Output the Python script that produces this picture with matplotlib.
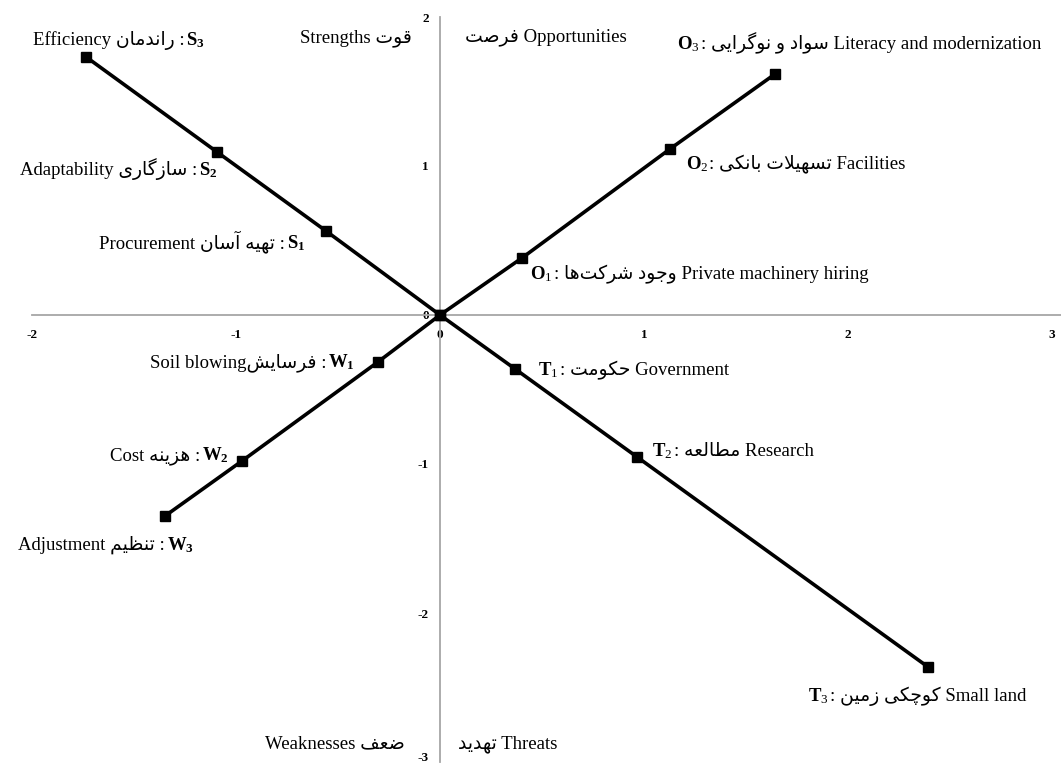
import matplotlib.pyplot as plt
from matplotlib.transforms import IdentityTransform, ScaledTranslation

plt.rcParams['font.family'] = ['Liberation Serif', 'DejaVu Sans']
plt.rcParams['mathtext.fontset'] = 'custom'
plt.rcParams['mathtext.rm'] = 'Liberation Serif'
plt.rcParams['mathtext.it'] = 'Liberation Serif:italic'
plt.rcParams['mathtext.bf'] = 'Liberation Serif:bold'
plt.rcParams['axes.unicode_minus'] = False

# factor coordinates, index 0 = factor 1
strength_x = [-0.559, -1.093, -1.735]
strength_y = [0.564, 1.094, 1.732]
strength_fa = ['تهیه آسان', 'سازگاری', 'راندمان']
strength_en = ['Procurement', 'Adaptability', 'Efficiency']

weakness_x = [-0.304, -0.971, -1.348]
weakness_y = [-0.315, -0.980, -1.349]
weakness_fa = ['فرسایش', 'هزینه', 'تنظیم']
weakness_en = ['Soil blowing', 'Cost', 'Adjustment']

opportunity_x = [0.402, 1.127, 1.642]
opportunity_y = [0.383, 1.114, 1.617]
opportunity_fa = ['وجود شرکت\u200cها', 'تسهیلات بانکی', 'سواد و نوگرایی']
opportunity_en = ['Private machinery hiring', 'Facilities', 'Literacy and modernization']

threat_x = [0.368, 0.966, 2.392]
threat_y = [-0.362, -0.953, -2.362]
threat_fa = ['حکومت', 'مطالعه', 'کوچکی زمین']
threat_en = ['Government', 'Research', 'Small land']

x_ticks = [-2, -1, 0, 1, 2, 3]
y_ticks = [-3, -2, -1, 0, 1, 2]

# matplotlib has no arabic shaping, so pick presentation forms by hand
# (isolated, final, initial, medial)
FORMS = {
    'ا': ('\uFE8D', '\uFE8E', None, None),
    'آ': ('\uFE81', '\uFE82', None, None),
    'ب': ('\uFE8F', '\uFE90', '\uFE91', '\uFE92'),
    'ت': ('\uFE95', '\uFE96', '\uFE97', '\uFE98'),
    'ج': ('\uFE9D', '\uFE9E', '\uFE9F', '\uFEA0'),
    'چ': ('\uFB7A', '\uFB7B', '\uFB7C', '\uFB7D'),
    'ح': ('\uFEA1', '\uFEA2', '\uFEA3', '\uFEA4'),
    'د': ('\uFEA9', '\uFEAA', None, None),
    'ر': ('\uFEAD', '\uFEAE', None, None),
    'ز': ('\uFEAF', '\uFEB0', None, None),
    'س': ('\uFEB1', '\uFEB2', '\uFEB3', '\uFEB4'),
    'ش': ('\uFEB5', '\uFEB6', '\uFEB7', '\uFEB8'),
    'ص': ('\uFEB9', '\uFEBA', '\uFEBB', '\uFEBC'),
    'ض': ('\uFEBD', '\uFEBE', '\uFEBF', '\uFEC0'),
    'ط': ('\uFEC1', '\uFEC2', '\uFEC3', '\uFEC4'),
    'ظ': ('\uFEC5', '\uFEC6', '\uFEC7', '\uFEC8'),
    'ع': ('\uFEC9', '\uFECA', '\uFECB', '\uFECC'),
    'ف': ('\uFED1', '\uFED2', '\uFED3', '\uFED4'),
    'ق': ('\uFED5', '\uFED6', '\uFED7', '\uFED8'),
    'ک': ('\uFB8E', '\uFB8F', '\uFB90', '\uFB91'),
    'گ': ('\uFB92', '\uFB93', '\uFB94', '\uFB95'),
    'ل': ('\uFEDD', '\uFEDE', '\uFEDF', '\uFEE0'),
    'م': ('\uFEE1', '\uFEE2', '\uFEE3', '\uFEE4'),
    'ن': ('\uFEE5', '\uFEE6', '\uFEE7', '\uFEE8'),
    'ه': ('\uFEE9', '\uFEEA', '\uFEEB', '\uFEEC'),
    'و': ('\uFEED', '\uFEEE', None, None),
    'ی': ('\uFBFC', '\uFBFD', '\uFBFE', '\uFBFF'),
}


def joins_forward(c):
    return c in FORMS and FORMS[c][2] is not None


def fa(s):
    out = []
    i = 0
    while i < len(s):
        c = s[i]
        prev = s[i - 1] if i > 0 else ''
        nxt = s[i + 1] if i + 1 < len(s) else ''
        if c not in FORMS:
            if c != '\u200c':
                out.append(c)
            i += 1
            continue
        jp = joins_forward(prev)
        if c == 'ل' and nxt in ('ا', 'آ'):
            lig = {'ا': ('\uFEFB', '\uFEFC'), 'آ': ('\uFEF5', '\uFEF6')}[nxt]
            out.append(lig[1] if jp else lig[0])
            i += 2
            continue
        jn = joins_forward(c) and nxt in FORMS
        iso, fin, ini, med = FORMS[c]
        if jp and jn:
            out.append(med)
        elif jp:
            out.append(fin)
        elif jn:
            out.append(ini)
        else:
            out.append(iso)
        i += 1
    return ''.join(reversed(out))


fig = plt.figure(figsize=(10.61, 7.65), dpi=100)
ax = fig.add_axes([32 / 1061, 3 / 765, 1029 / 1061, 745 / 765])
ax.set_xlim(-2, 3.044)
ax.set_ylim(-3, 2)

for side in ['top', 'right']:
    ax.spines[side].set_visible(False)
for side in ['left', 'bottom']:
    ax.spines[side].set_position('zero')
    ax.spines[side].set_color('#a6a6a6')
    ax.spines[side].set_linewidth(1.3)

ax.set_xticks(x_ticks)
ax.set_yticks(y_ticks)
ax.tick_params(axis='x', length=0, pad=10, labelsize=9.5)
ax.tick_params(axis='y', length=0, pad=8, labelsize=9.5)
for t in ax.get_xticklabels() + ax.get_yticklabels():
    t.set_fontweight('bold')
# lowest y label sits on the bottom edge, nudge it up a little
low = ax.get_yticklabels()[0]
low.set_transform(low.get_transform() + ScaledTranslation(0, 4 / 72, fig.dpi_scale_trans))

# S -> origin -> T, and W -> origin -> O
st_x = strength_x[::-1] + [0] + threat_x
st_y = strength_y[::-1] + [0] + threat_y
wo_x = weakness_x[::-1] + [0] + opportunity_x
wo_y = weakness_y[::-1] + [0] + opportunity_y
ax.plot(st_x, st_y, color='black', lw=2.6, marker='s', ms=6.5, zorder=3, clip_on=False)
ax.plot(wo_x, wo_y, color='black', lw=2.6, marker='s', ms=6.5, zorder=3, clip_on=False)

renderer = fig.canvas.get_renderer()
FS = 13.5


def chain(x, y, dx, dy, pieces, ha='left'):
    # pieces are (text, gap in px before it), drawn left to right on one baseline
    px, py = ax.transData.transform((x, y))
    px += dx
    py += dy
    arts = [fig.text(0, 0, s, transform=IdentityTransform(), fontsize=FS, va='baseline')
            for s, g in pieces]
    widths = [a.get_window_extent(renderer).width for a in arts]
    total = sum(widths) + sum(g for s, g in pieces)
    x0 = px - total if ha == 'right' else px
    for a, w, (s, g) in zip(arts, widths, pieces):
        x0 += g
        a.set_position((x0, py))
        x0 += w


# label offsets in pixels from each point
s_off = [(-21, -17), (1, -23), (119, 12)]
w_off = [(-23, -5), (-13, 1), (29, -34)]
o_off = [(8, -21), (16, -20), (-98, 25)]
t_off = [(23, -6), (15, 1), (-120, -34)]

for i in range(3):
    chain(strength_x[i], strength_y[i], *s_off[i],
          [(strength_en[i] + ' ' + fa(strength_fa[i]) + ' :', 0),
           (r'$\mathbf{S_%d}$' % (i + 1), 2)], ha='right')
    sep = '' if i == 0 else ' '
    chain(weakness_x[i], weakness_y[i], *w_off[i],
          [(weakness_en[i] + sep + fa(weakness_fa[i]) + ' :', 0),
           (r'$\mathbf{W_%d}$' % (i + 1), 2)], ha='right')
    chain(opportunity_x[i], opportunity_y[i], *o_off[i],
          [(r'$\mathbf{O}_%d$' % (i + 1), 0),
           (': ' + fa(opportunity_fa[i]) + ' ' + opportunity_en[i], 1)])
    chain(threat_x[i], threat_y[i], *t_off[i],
          [(r'$\mathbf{T}_%d$' % (i + 1), 0),
           (': ' + fa(threat_fa[i]) + ' ' + threat_en[i], 1)])

# quadrant names
ax.text(-0.137, 1.832, 'Strengths ' + fa('قوت'), ha='right', va='baseline', fontsize=FS)
ax.text(0.123, 1.835, fa('فرصت') + ' Opportunities', ha='left', va='baseline', fontsize=FS)
ax.text(-0.172, -2.906, 'Weaknesses ' + fa('ضعف'), ha='right', va='baseline', fontsize=FS)
ax.text(0.088, -2.906, fa('تهدید') + ' Threats', ha='left', va='baseline', fontsize=FS)

fig.savefig('out.png', dpi=100)
